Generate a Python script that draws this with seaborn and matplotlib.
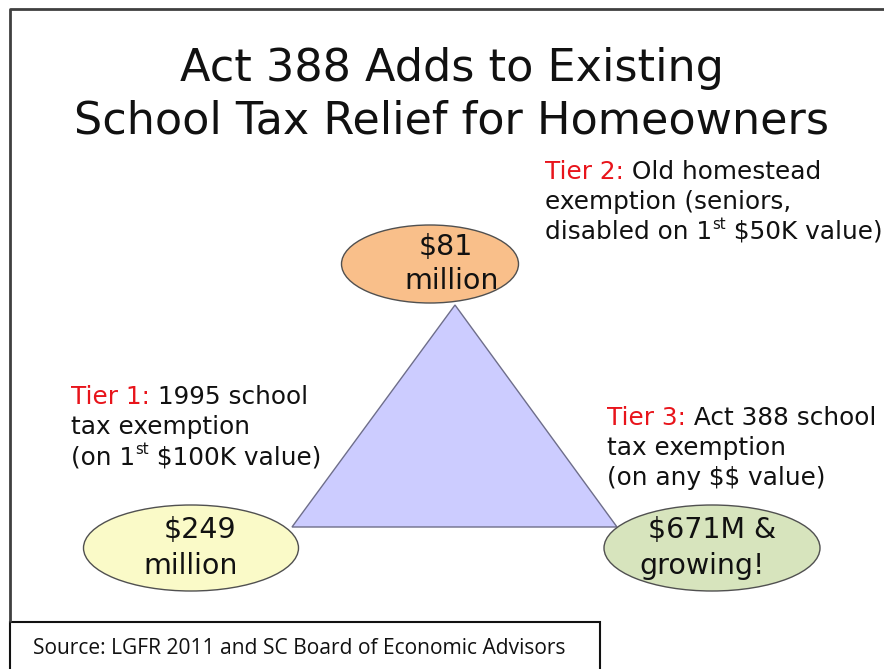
import matplotlib
matplotlib.use("Agg")
import matplotlib.pyplot as plt
from matplotlib.patches import Ellipse, Polygon, Rectangle
import seaborn as sns

# ---- content ----
title_lines = ["Act 388 Adds to Existing", "School Tax Relief for Homeowners"]
tiers = ["Tier 1:", "Tier 2:", "Tier 3:"]
tier_text = [
    [[(" 1995 school", 0)], [("tax exemption", 0)],
     [("(on 1", 0), ("st", 1), (" $100K value)", 0)]],
    [[(" Old homestead", 0)], [("exemption (seniors,", 0)],
     [("disabled on 1", 0), ("st", 1), (" $50K value)", 0)]],
    [[(" Act 388 school", 0)], [("tax exemption", 0)],
     [("(on any $$ value)", 0)]],
]
amounts = [["$249", "million"], ["$81", "million"], ["$671M &", "growing!"]]
source = "Source: LGFR 2011 and SC Board of Economic Advisors"

# ---- layout / style ----
node_xy = [(191, 548), (430, 264), (712, 548)]
node_wh = [(215, 86), (177, 78), (216, 86)]
node_colors = ["#FAFAC8", "#F9BF8A", "#D7E4BD"]
label_xy = [(71, 404), (545, 179), (607, 425)]
amount_pos = [[(200, 530), (191, 566)], [(446, 247), (452, 281)], [(712, 530), (702, 566)]]
tri = [(455, 305), (292, 527), (617, 527)]
line_gap = 30

sns.set_theme(style="white")
plt.rcParams["font.family"] = ["DejaVu Sans"]

fig = plt.figure(figsize=(8.84, 6.69), dpi=100)
ax = fig.add_axes([0, 0, 1, 1])
ax.set_xlim(0, 884)
ax.set_ylim(669, 0)
ax.axis("off")
renderer = fig.canvas.get_renderer()


def put(x, y, s, **kw):
    return ax.text(x, y, s, parse_math=False, color=kw.pop("color", "#111111"), **kw)


def width_of(t):
    return t.get_window_extent(renderer).width


# outer frame
ax.plot([10, 10, 884], [622, 9, 9], color="#404040", lw=2, solid_capstyle="butt")

# title
put(452, 68, title_lines[0], ha="center", va="center", fontsize=32)
put(452, 121, title_lines[1], ha="center", va="center", fontsize=32)

# triangle
ax.add_patch(Polygon(tri, closed=True, facecolor="#CCCCFF", edgecolor="#6E6E8A", lw=1))

# ellipses with amounts
for (cx, cy), (w, h), col, amt, pos in zip(node_xy, node_wh, node_colors, amounts, amount_pos):
    ax.add_patch(Ellipse((cx, cy), w, h, facecolor=col, edgecolor="#505050", lw=1))
    for s, (x, y) in zip(amt, pos):
        put(x, y, s, ha="center", va="center", fontsize=20.5)

# tier labels with superscripts
fs = 17.8
for (x0, y0), tier, lines in zip(label_xy, tiers, tier_text):
    for i, line in enumerate(lines):
        x = x0
        y = y0 + i * line_gap
        if i == 0:
            t = put(x, y, tier, color="#E8141B", fontsize=fs, va="baseline")
            x += width_of(t)
        for s, sup in line:
            if sup:
                t = put(x, y - 10, s, fontsize=fs * 0.6, va="baseline")
            else:
                t = put(x, y, s, fontsize=fs, va="baseline")
            x += width_of(t)

# source box
ax.add_patch(Rectangle((10, 622), 590, 60, facecolor="white", edgecolor="#111111", lw=1.5))
put(33, 648, source, fontsize=15.1, family="Open Sans", va="center")

fig.savefig("out.png", dpi=100)
